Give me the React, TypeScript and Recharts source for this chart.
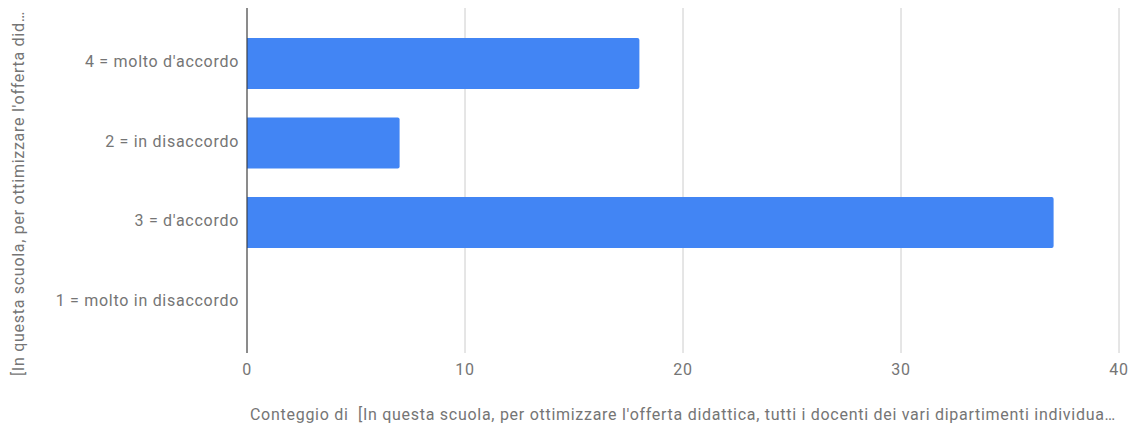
import React from 'react';
import { BarChart, Bar, XAxis, YAxis, CartesianGrid, Label } from 'recharts';

const categories = ["4 = molto d'accordo", '2 = in disaccordo', "3 = d'accordo", '1 = molto in disaccordo'];
const counts = [18, 7, 37, 0];
const xTicks = [0, 10, 20, 30, 40];

const xTitle = "Conteggio di \u00a0[In questa scuola, per ottimizzare l'offerta didattica, tutti i docenti dei vari dipartimenti individua…";
const yTitle = "[In questa scuola, per ottimizzare l'offerta did…";

const data = categories.map((name, i) => ({ name, value: counts[i] }));

const FONT = 'Roboto, "Noto Sans", sans-serif';
const GREY = '#757575';
const SPACING = 0.72;

const YTitle = (props: any) => {
  const vb = props.viewBox || {};
  const x = vb.x + 24;
  const y = vb.y + vb.height / 2 + 13;
  return (
    <text
      x={x}
      y={y}
      transform={`rotate(-90, ${x}, ${y})`}
      textAnchor="middle"
      fill={GREY}
      fontSize={16}
      fontFamily={FONT}
      letterSpacing={SPACING}
    >
      {yTitle}
    </text>
  );
};

export default function App() {
  return (
    <div style={{ position: 'absolute', left: 0, top: 0, background: '#fff' }}>
      <BarChart
        width={1133}
        height={428}
        data={data}
        layout="vertical"
        margin={{ top: 8, right: 14, bottom: 0, left: 0 }}
      >
        <CartesianGrid horizontal={false} stroke="#cccccc" />
        <XAxis
          type="number"
          domain={[0, 40]}
          ticks={xTicks}
          axisLine={false}
          tickLine={false}
          height={75}
          tickMargin={5}
          tick={{ fill: GREY, fontSize: 16, fontFamily: FONT, letterSpacing: SPACING }}
        >
          <Label
            value={xTitle}
            position="insideBottom"
            offset={8}
            style={{ fill: GREY, fontSize: 16, fontFamily: FONT, letterSpacing: SPACING }}
          />
        </XAxis>
        <YAxis
          type="category"
          dataKey="name"
          width={247}
          padding={{ top: 16, bottom: 11 }}
          axisLine={{ stroke: '#333333', strokeWidth: 1 }}
          tickLine={false}
          tick={{ fill: GREY, fontSize: 16, fontFamily: FONT, letterSpacing: SPACING, dy: -2 }}
        >
          <Label content={<YTitle />} />
        </YAxis>
        <Bar dataKey="value" fill="#4285f4" barSize={51} radius={[0, 2, 2, 0]} isAnimationActive={false} />
      </BarChart>
    </div>
  );
}
